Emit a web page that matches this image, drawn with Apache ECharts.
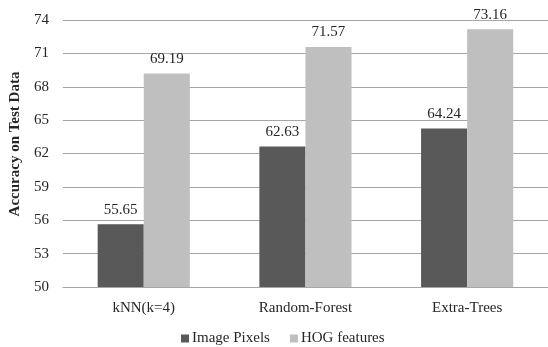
<!DOCTYPE html>
<html>
<head>
<meta charset="utf-8">
<script src="https://cdn.jsdelivr.net/npm/echarts@6/dist/echarts.min.js"></script>
<style>html,body{margin:0;padding:0;background:#fff;}#c{width:548px;height:347px;}</style>
</head>
<body>
<div id="c"></div>
<script>
var categories = ['kNN(k=4)', 'Random-Forest', 'Extra-Trees'];
var imagePixels = [55.65, 62.63, 64.24];
var hogFeatures = [69.19, 71.57, 73.16];
var seriesNames = ['Image Pixels', 'HOG features'];
var yName = 'Accuracy on Test Data';

var font = 'Liberation Serif';
var txt = '#262626';
var chart = echarts.init(document.getElementById('c'), null, {renderer: 'canvas'});
function lbl() {
  return {show: true, position: 'top', distance: 7, fontFamily: font, fontSize: 15, color: txt,
    formatter: function (p) { return p.value.toFixed(2); }};
}
chart.setOption({
  animation: false,
  textStyle: {fontFamily: font},
  grid: {left: 59.5, right: 0, top: 20, bottom: 60, containLabel: false},
  legend: {
    top: 326, left: 176, itemWidth: 8, itemHeight: 8, itemGap: 20,
    icon: 'rect',
    textStyle: {fontFamily: font, fontSize: 15, color: txt, padding: [0, 0, 0, -2]},
    data: seriesNames
  },
  xAxis: {
    type: 'category', data: categories,
    axisTick: {show: false},
    axisLine: {lineStyle: {color: '#a6a6a6', width: 1}},
    axisLabel: {fontFamily: font, fontSize: 15, color: txt, margin: 14}
  },
  yAxis: {
    type: 'value', min: 50, max: 74, interval: 3,
    name: yName, nameLocation: 'middle', nameGap: 35, nameRotate: 90,
    nameTextStyle: {fontFamily: font, fontSize: 15, fontWeight: 'bold', color: txt, padding: [0, 0, 0, 19]},
    axisLine: {show: false}, axisTick: {show: false},
    axisLabel: {fontFamily: font, fontSize: 15, color: txt, margin: 14},
    splitLine: {lineStyle: {color: '#a6a6a6', width: 1}}
  },
  series: [
    {name: seriesNames[0], type: 'bar', data: imagePixels, barGap: '0%', barCategoryGap: '43%',
      itemStyle: {color: '#595959'}, label: lbl()},
    {name: seriesNames[1], type: 'bar', data: hogFeatures, barGap: '0%', barCategoryGap: '43%',
      itemStyle: {color: '#bfbfbf'}, label: lbl()}
  ]
});
</script>
</body>
</html>
